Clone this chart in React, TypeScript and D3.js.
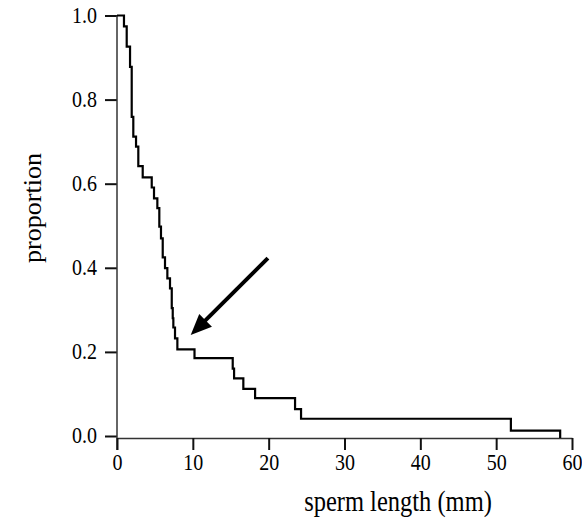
import React, { useEffect, useRef } from 'react';
import * as d3 from 'd3';

// step points: sperm length (mm) where the curve drops, and proportion after the drop
const lengths = [
  0, 0.92, 1.28, 1.72, 1.94, 2.15, 2.51, 2.81, 3.39, 4.58, 4.88, 5.32, 5.58, 5.8,
  6.03, 6.33, 6.64, 6.99, 7.22, 7.35, 7.43, 7.65, 7.96, 10.22, 15.26, 15.44, 16.66,
  18.21, 23.48, 24.27, 51.94, 58.44,
];
const proportions = [
  1.0, 0.974, 0.926, 0.878, 0.759, 0.712, 0.688, 0.642, 0.615, 0.591, 0.565, 0.542,
  0.498, 0.47, 0.425, 0.399, 0.375, 0.351, 0.304, 0.28, 0.258, 0.232, 0.206, 0.185,
  0.16, 0.137, 0.112, 0.09, 0.064, 0.041, 0.013, 0.0,
];

const xTicks = [0, 10, 20, 30, 40, 50, 60];
const yTicks = [0, 0.2, 0.4, 0.6, 0.8, 1.0];

// arrow annotation (data coords): from tail to tip
const arrowTail = [19.9, 0.423];
const arrowTip = [9.72, 0.24];

const W = 582;
const H = 521;

export default function App() {
  const ref = useRef<SVGSVGElement | null>(null);

  useEffect(() => {
    const svg = d3.select(ref.current);
    svg.selectAll('*').remove();

    const x = d3.scaleLinear().domain([0, 60]).range([117, 572]);
    const y = d3.scaleLinear().domain([0, 1]).range([436, 15.5]);
    const axisY = y(0) + 2;
    const font = '"Liberation Serif", "DejaVu Serif", serif';

    // y axis
    const ya = svg.append('g').attr('transform', `translate(${x(0)},0)`)
      .call(d3.axisLeft(y).tickValues(yTicks).tickFormat(d3.format('.1f')).tickSize(12).tickSizeOuter(0));
    ya.select('.domain').remove();
    ya.selectAll('line').attr('stroke', '#111').attr('stroke-width', 2);
    ya.selectAll('text').attr('font-family', font).attr('font-size', 20).attr('fill', '#000')
      .attr('x', -20).attr('dy', '0.3em').attr('transform', 'scale(1,1.15)');
    svg.append('line').attr('x1', x(0)).attr('x2', x(0)).attr('y1', y(1)).attr('y2', axisY + 12)
      .attr('stroke', '#333').attr('stroke-width', 1.5);

    // x axis
    const xa = svg.append('g').attr('transform', `translate(0,${axisY})`)
      .call(d3.axisBottom(x).tickValues(xTicks).tickSize(12).tickSizeOuter(0));
    xa.select('.domain').attr('stroke', '#333').attr('stroke-width', 1.5);
    xa.selectAll('line').attr('stroke', '#111').attr('stroke-width', 2);
    xa.selectAll('text').attr('font-family', font).attr('font-size', 20).attr('fill', '#000')
      .attr('y', 14).attr('transform', 'scale(1,1.15)');

    // step curve, dropping to the axis at the end
    const pts: [number, number][] = lengths.map((l, i) => [l, proportions[i]]);
    const line = d3.line<[number, number]>()
      .x(d => x(d[0]))
      .y(d => y(d[1]))
      .curve(d3.curveStepAfter);
    svg.append('path')
      .attr('d', line(pts.slice(0, -1))! + `H${x(lengths[lengths.length - 1])}V${axisY}`)
      .attr('fill', 'none')
      .attr('stroke', '#000')
      .attr('stroke-width', 2.2);

    // arrow
    const tx = x(arrowTail[0]), ty = y(arrowTail[1]);
    const hx = x(arrowTip[0]), hy = y(arrowTip[1]);
    const ang = Math.atan2(hy - ty, hx - tx);
    const headLen = 21, headW = 9;
    const bx = hx - headLen * Math.cos(ang), by = hy - headLen * Math.sin(ang);
    svg.append('line').attr('x1', tx).attr('y1', ty).attr('x2', bx + 2 * Math.cos(ang)).attr('y2', by + 2 * Math.sin(ang))
      .attr('stroke', '#000').attr('stroke-width', 4);
    svg.append('path')
      .attr('d', `M${hx},${hy}L${bx + headW * Math.sin(ang)},${by - headW * Math.cos(ang)}L${bx - headW * Math.sin(ang)},${by + headW * Math.cos(ang)}Z`)
      .attr('fill', '#000');

    // titles
    svg.append('text').attr('transform', `translate(398,511) scale(1,1.2)`)
      .attr('text-anchor', 'middle').attr('font-family', font).attr('font-size', 24.5).attr('fill', '#000')
      .text('sperm length (mm)');
    svg.append('text').attr('transform', `translate(41,208) rotate(-90)`)
      .attr('text-anchor', 'middle').attr('font-family', font).attr('font-size', 26).attr('fill', '#000')
      .text('proportion');
  }, []);

  return (
    <svg ref={ref} width={W} height={H}
      style={{ position: 'absolute', left: 0, top: 0, background: '#fff' }} />
  );
}
